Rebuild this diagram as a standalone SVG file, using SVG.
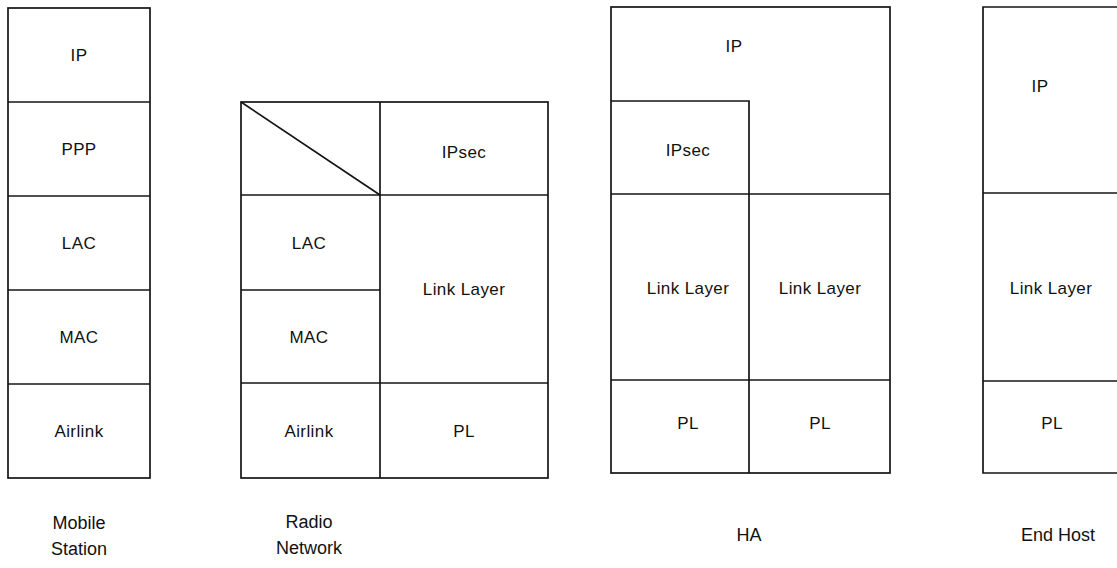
<svg xmlns="http://www.w3.org/2000/svg" width="1117" height="568" viewBox="0 0 1117 568">
<style>
.b{fill:none;stroke:#151515;stroke-width:1.7}
.t{font-family:"Liberation Sans",Arial,sans-serif;font-size:17px;letter-spacing:0.4px;fill:#111;text-anchor:middle}
.n{font-family:"Liberation Sans",Arial,sans-serif;font-size:18px;fill:#111;text-anchor:middle}
</style>
<rect width="1117" height="568" fill="#fff"/>
<g id="mobile-station">
<rect class="b" x="8" y="8" width="142" height="470"/>
<line class="b" x1="8" y1="102" x2="150" y2="102"/>
<line class="b" x1="8" y1="196" x2="150" y2="196"/>
<line class="b" x1="8" y1="290" x2="150" y2="290"/>
<line class="b" x1="8" y1="384" x2="150" y2="384"/>
<text class="t" x="79" y="61">IP</text>
<text class="t" x="79" y="155">PPP</text>
<text class="t" x="79" y="249">LAC</text>
<text class="t" x="79" y="343">MAC</text>
<text class="t" x="79" y="437">Airlink</text>
<text class="n" x="79" y="529">Mobile</text>
<text class="n" x="79" y="555">Station</text>
</g>
<g id="radio-network">
<rect class="b" x="241" y="102" width="307" height="376"/>
<line class="b" x1="380" y1="102" x2="380" y2="478"/>
<line class="b" x1="241" y1="195" x2="548" y2="195"/>
<line class="b" x1="241" y1="290" x2="380" y2="290"/>
<line class="b" x1="241" y1="383" x2="548" y2="383"/>
<line class="b" x1="241" y1="102" x2="380" y2="195"/>
<text class="t" x="464" y="158">IPsec</text>
<text class="t" x="309" y="249">LAC</text>
<text class="t" x="464" y="295">Link Layer</text>
<text class="t" x="309" y="343">MAC</text>
<text class="t" x="309" y="437">Airlink</text>
<text class="t" x="464" y="437">PL</text>
<text class="n" x="309" y="528">Radio</text>
<text class="n" x="309" y="554">Network</text>
</g>
<g id="ha">
<rect class="b" x="611" y="7" width="279" height="466"/>
<polyline class="b" points="611,101 749,101 749,473"/>
<line class="b" x1="611" y1="194" x2="890" y2="194"/>
<line class="b" x1="611" y1="380" x2="890" y2="380"/>
<text class="t" x="734" y="52">IP</text>
<text class="t" x="688" y="156">IPsec</text>
<text class="t" x="688" y="294">Link Layer</text>
<text class="t" x="820" y="294">Link Layer</text>
<text class="t" x="688" y="429">PL</text>
<text class="t" x="820" y="429">PL</text>
<text class="n" x="749" y="541">HA</text>
</g>
<g id="end-host">
<polyline class="b" points="1125,7 983,7 983,473 1125,473"/>
<line class="b" x1="983" y1="193" x2="1125" y2="193"/>
<line class="b" x1="983" y1="381" x2="1125" y2="381"/>
<text class="t" x="1040" y="92">IP</text>
<text class="t" x="1051" y="294">Link Layer</text>
<text class="t" x="1052" y="429">PL</text>
<text class="n" x="1058" y="541">End Host</text>
</g>
<g id="connectors"></g>
</svg>
